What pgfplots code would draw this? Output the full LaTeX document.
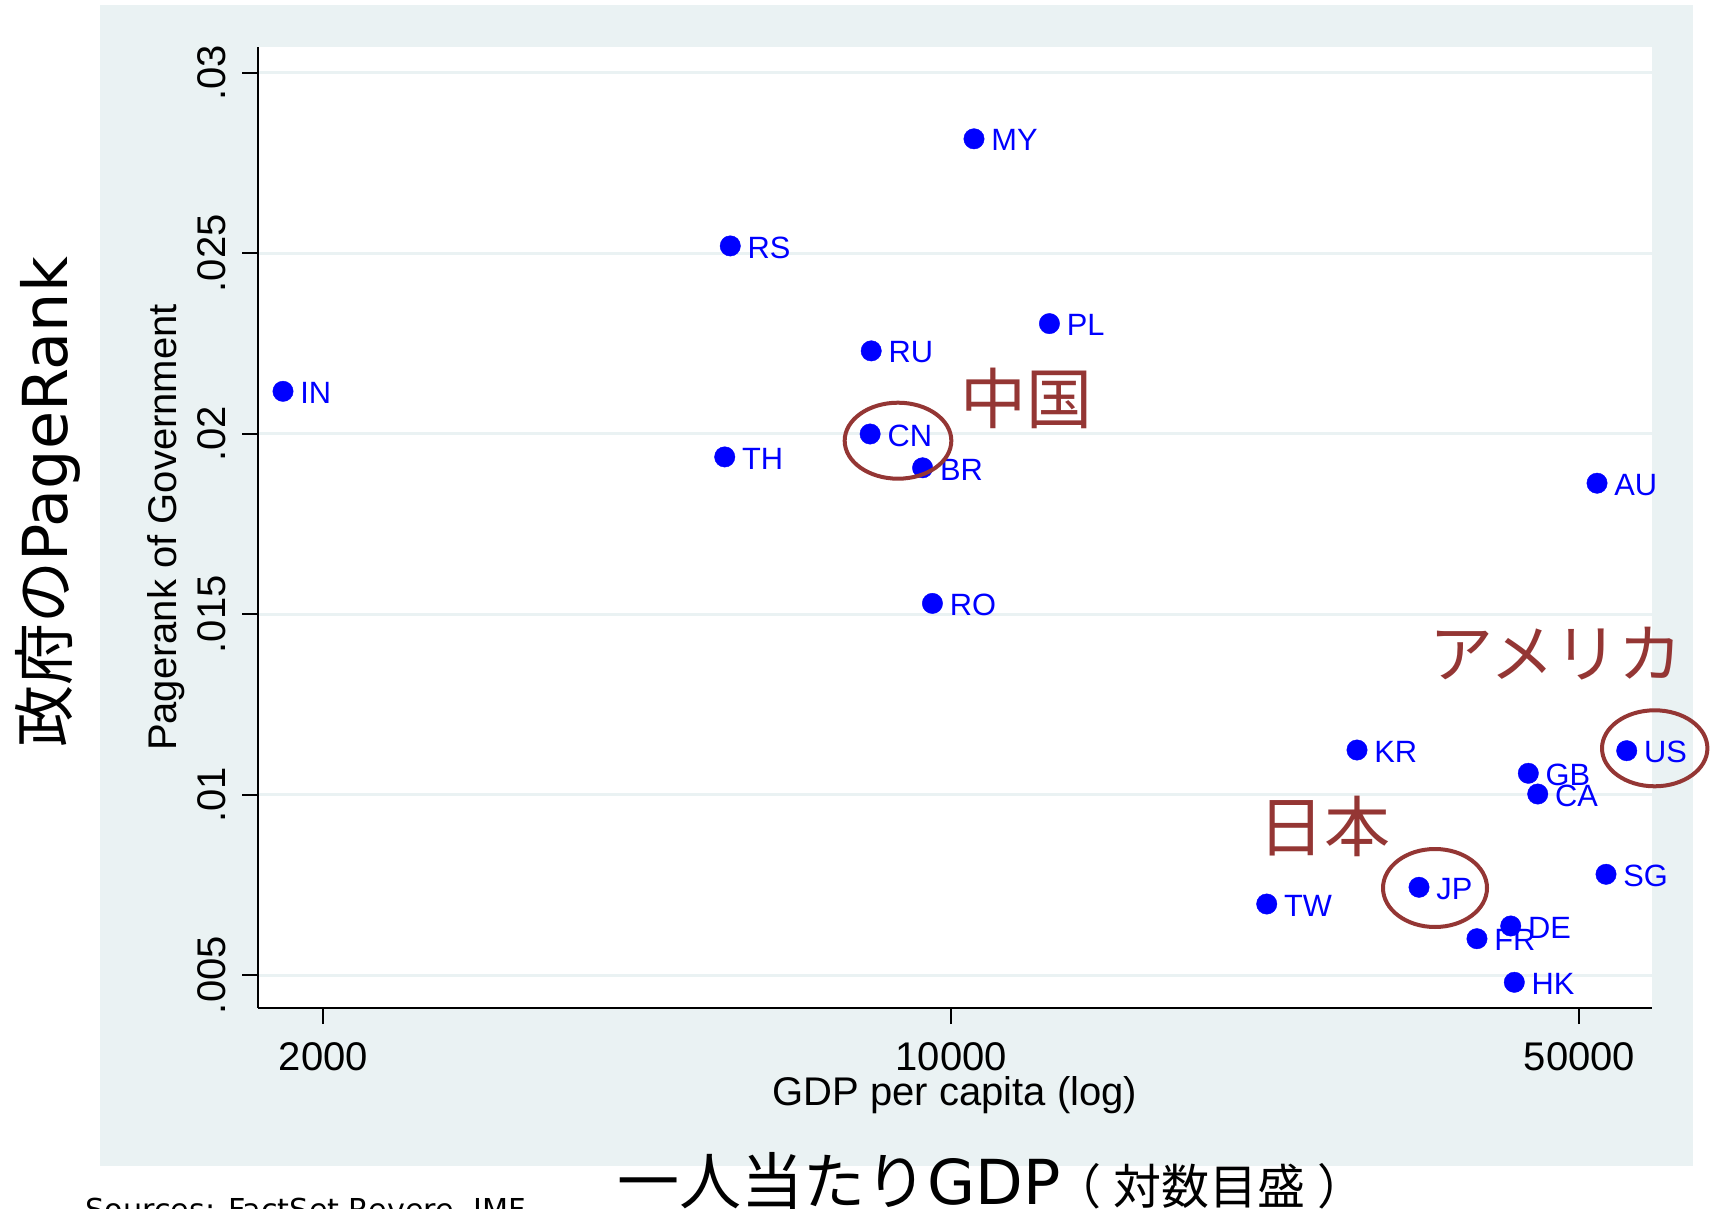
\documentclass[border=0pt]{standalone}
\usepackage{fontspec}
\setmainfont{Liberation Sans}
\newfontfamily\cjk{Noto Sans CJK JP}
\newfontfamily\dv{DejaVu Sans}
\usepackage{pgfplots}
\pgfplotsset{compat=1.18}
\definecolor{bggray}{RGB}{234,242,243}
\definecolor{annot}{RGB}{148,54,52}
\definecolor{ptblue}{RGB}{0,0,255}

\begin{document}
\begin{tikzpicture}
\useasboundingbox (0,0) rectangle (428.5pt,-302.25pt);
\clip (0,0) rectangle (428.5pt,-302.25pt);
\fill[white] (0,0) rectangle (428.5pt,-302.25pt);
\fill[bggray] (25pt,-1.25pt) rectangle (423.25pt,-291.5pt);
\begin{axis}[
  at={(64.5pt,-252pt)}, anchor=south west,
  scale only axis, width=348.5pt, height=240.25pt,
  xmode=log, xmin=1692, xmax=60240,
  ymin=0.004091, ymax=0.030712,
  axis x line*=bottom, axis y line*=left,
  axis line style={-, line width=0.5pt, black},
  xtick={2000,10000,50000}, xticklabels={2000,10000,50000},
  ytick={0.005,0.01,0.015,0.02,0.025,0.03},
  yticklabels={.005,.01,.015,.02,.025,.03},
  scaled y ticks=false,
  xminorticks=false, yminorticks=false,
  tick align=outside, major tick length=4pt,
  tick style={line width=0.5pt, black},
  ymajorgrids,
  major grid style={line width=0.75pt, bggray},
  axis background/.style={fill=white},
  tick label style={font=\fontsize{10}{12}\selectfont},
  yticklabel style={rotate=90, anchor=south, inner sep=0pt},
  xticklabel style={anchor=north, inner sep=0pt},
  xticklabel shift=4.4pt, yticklabel shift=3.9pt,
  xlabel={GDP per capita (log)},
  ylabel={Pagerank of Government},
  label style={font=\fontsize{10}{12}\selectfont},
  xlabel style={at={(axis description cs:0.5,-0.10094)}, anchor=base},
  ylabel style={at={(axis description cs:-0.05882,0.5)}, anchor=base},
  clip=false,
]
\addplot[only marks, mark=*, mark size=2.55pt,
  mark options={draw=ptblue, fill=ptblue, line width=0.1pt},
  nodes near coords, point meta=explicit symbolic,
  every node near coord/.style={anchor=west, inner sep=0pt, xshift=4.3pt, yshift=-0.4pt, text=ptblue, font=\fontsize{7.7}{9}\selectfont}]
 table[meta=label] {
x y label
10598 0.028169 MY
5675 0.025202 RS
12858 0.023050 PL
8144 0.022294 RU
1804 0.021174 IN
8121 0.019992 CN
5595 0.019357 TH
9290 0.019055 BR
52315 0.018629 AU
9527 0.015299 RO
28281 0.011238 KR
56450 0.011219 US
43868 0.010593 GB
44938 0.010019 CA
53533 0.007795 SG
33152 0.007435 JP
22439 0.006972 TW
41934 0.006363 DE
38465 0.006011 FR
42322 0.004803 HK
};
\end{axis}
\draw[annot, line width=1pt] (224.5pt,-110.175pt) ellipse [x radius=13.33pt, y radius=9.5pt];
\draw[annot, line width=1pt] (358.75pt,-222pt) ellipse [x radius=13pt, y radius=9.75pt];
\draw[annot, line width=1pt] (413.675pt,-187.075pt) ellipse [x radius=13.175pt, y radius=9.5pt];
\node[inner sep=0pt, text=annot, font=\cjk\fontsize{16.5}{16.5}\selectfont] at (256.5pt,-99.5pt) {中国};
\node[inner sep=0pt, text=annot, font=\cjk\fontsize{16}{16}\selectfont] at (389pt,-163.5pt) {アメリカ};
\node[inner sep=0pt, text=annot, font=\cjk\fontsize{16.5}{16.5}\selectfont] at (331.175pt,-206.5pt) {日本};
\node[inner sep=0pt, rotate=90, anchor=base] at (16.8pt,-125.6pt) {\fontsize{15.5}{15.5}\selectfont{\cjk 政府の}{\dv PageRank}};
\node[inner sep=0pt, anchor=base west] at (154.25pt,-301pt) {{\cjk\fontsize{15.5}{15.5}\selectfont 一人当たり}{\dv\fontsize{15.5}{15.5}\selectfont GDP}{\cjk\fontsize{12}{12}\selectfont\hspace{-0.15em}（\hspace{0.25em}対数目盛\hspace{0.25em}）}};
\node[inner sep=0pt, anchor=base west] at (21.25pt,-305pt) {\dv\fontsize{7.55}{9}\selectfont Sources: FactSet Revere, IMF};
\end{tikzpicture}
\end{document}
